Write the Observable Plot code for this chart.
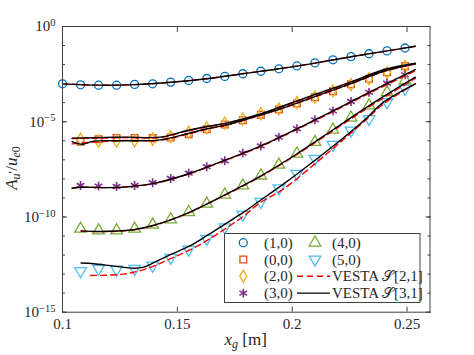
<!DOCTYPE html>
<html><head><meta charset="utf-8">
<script src="https://cdn.jsdelivr.net/npm/d3@7"></script>
<script src="https://cdn.jsdelivr.net/npm/@observablehq/plot@0.6"></script>
<style>body{margin:0;background:#fff}#chart{width:474px;height:355px}
#chart svg, #chart svg text {font-family: "Liberation Serif" !important;}</style>
</head><body><div id="chart"></div>
<script>
// ---------- data (amplitudes given as log10 values) ----------
const modes = ["(1,0)", "(0,0)", "(2,0)", "(3,0)", "(4,0)", "(5,0)"];
const colors = ["#0072BD", "#D95319", "#EDB120", "#7E2F8E", "#77AC30", "#4DBEEE"];
const markerX = [0.1, 0.10785, 0.1157, 0.12355, 0.1314, 0.13925, 0.1471, 0.15495, 0.1628, 0.17065,
  0.1785, 0.18635, 0.1942, 0.20205, 0.2099, 0.21775, 0.2256, 0.23345, 0.2413, 0.24915];
const markerX2 = markerX.slice(1);
const m10 = [-3.01, -3.06, -3.08, -3.08, -3.04, -3.01, -2.92, -2.83, -2.73, -2.62, -2.48, -2.35, -2.22, -2.07, -1.91, -1.75, -1.58, -1.43, -1.28, -1.13];
const m00 = [-6.05, -5.92, -5.85, -5.85, -5.86, -5.83, -5.65, -5.40, -5.15, -4.92, -4.64, -4.36, -4.04, -3.72, -3.40, -3.03, -2.74, -2.40, -2.08];
const m20 = [-5.92, -6.02, -6.02, -6.00, -5.92, -5.78, -5.55, -5.32, -5.07, -4.86, -4.58, -4.33, -4.00, -3.70, -3.38, -3.05, -2.74, -2.42, -2.10];
const m30 = [-8.35, -8.38, -8.40, -8.35, -8.20, -7.98, -7.70, -7.36, -7.05, -6.65, -6.27, -5.81, -5.37, -4.90, -4.43, -3.94, -3.46, -2.98, -2.54];
const m40 = [-10.62, -10.71, -10.71, -10.62, -10.41, -10.13, -9.75, -9.31, -8.83, -8.35, -7.83, -7.26, -6.68, -6.07, -5.42, -4.79, -4.15, -3.45, -2.83];
const m50 = [-12.84, -12.72, -12.76, -12.72, -12.55, -12.14, -11.71, -11.14, -10.54, -9.87, -9.20, -8.49, -7.73, -6.94, -6.21, -5.46, -4.85, -3.97, -3.27];

// VESTA S[3,1] (black) and S[2,1] (red dashed) curves
const l10x = [0.1, 0.1157, 0.1314, 0.1471, 0.1628, 0.1785, 0.1942, 0.2099, 0.2256, 0.2413, 0.2536];
const l10y = [-3.01, -3.08, -3.05, -2.93, -2.74, -2.48, -2.22, -1.92, -1.59, -1.28, -1.04];
const l00x = [0.1042, 0.1086, 0.1136, 0.1282, 0.1426, 0.1543, 0.163, 0.1717, 0.1854, 0.1963, 0.2108, 0.2253, 0.2398, 0.2536];
const k00y = [-6.04, -6.18, -6.02, -6.00, -5.95, -5.63, -5.37, -5.16, -4.67, -4.27, -3.64, -3.01, -2.35, -1.96];
const r00y = [-6.16, -6.12, -6.07, -5.98, -5.97, -5.66, -5.39, -5.17, -4.69, -4.28, -3.66, -3.03, -2.37, -1.97];
const l20x = [0.1042, 0.1136, 0.1282, 0.1426, 0.1543, 0.163, 0.1717, 0.1854, 0.1963, 0.2108, 0.2253, 0.2398, 0.2536];
const k20y = [-5.86, -5.84, -5.81, -5.81, -5.46, -5.25, -5.06, -4.62, -4.16, -3.53, -2.92, -2.27, -1.93];
const r20y = [-5.88, -5.86, -5.83, -5.83, -5.48, -5.27, -5.08, -4.64, -4.18, -3.56, -2.95, -2.30, -1.95];
const l30x = [0.1042, 0.1079, 0.1236, 0.1393, 0.1550, 0.1707, 0.1864, 0.2021, 0.2178, 0.2335, 0.2536];
const k30y = [-8.49, -8.44, -8.45, -8.25, -7.73, -7.02, -6.27, -5.37, -4.43, -3.46, -2.27];
const r30y = [-8.49, -8.44, -8.45, -8.25, -7.74, -7.04, -6.30, -5.40, -4.47, -3.51, -2.33];
const l40x = [0.1081, 0.1157, 0.1236, 0.1314, 0.1393, 0.1471, 0.155, 0.1628, 0.1707, 0.1785, 0.1864, 0.2021, 0.2178, 0.2335, 0.2536];
const k40y = [-10.73, -10.76, -10.74, -10.66, -10.45, -10.15, -9.77, -9.32, -8.84, -8.35, -7.84, -6.68, -5.42, -4.15, -2.66];
const r40y = [-10.75, -10.77, -10.75, -10.67, -10.47, -10.15, -9.78, -9.33, -8.86, -8.38, -7.87, -6.72, -5.47, -4.22, -2.72];
const k50x = [0.1081, 0.1136, 0.1223, 0.131, 0.1354, 0.1397, 0.147, 0.155, 0.163, 0.1709, 0.1789, 0.1854, 0.1963, 0.2108, 0.2253, 0.2326, 0.2398, 0.2536];
const k50y = [-12.42, -12.46, -12.58, -12.69, -12.63, -12.40, -11.98, -11.55, -10.97, -10.36, -9.75, -9.19, -8.26, -6.94, -5.55, -4.79, -3.97, -3.01];
const r50x = [0.1122, 0.1238, 0.131, 0.1397, 0.147, 0.155, 0.163, 0.1709, 0.1789, 0.1854, 0.1963, 0.2108, 0.221, 0.2326, 0.2398, 0.2536];
const r50y = [-13.07, -13.03, -12.90, -12.58, -12.19, -11.76, -11.23, -10.62, -9.95, -9.31, -8.52, -7.12, -6.07, -4.85, -4.06, -3.01];

const xTicks = [0.1, 0.15, 0.2, 0.25];
const xTickLabels = ["0.1", "0.15", "0.2", "0.25"];
const yMajor = [1, 1e-5, 1e-10, 1e-15];
const yMajorExp = ["0", "\u22125", "\u221210", "\u221215"];
const yMinor = d3.range(0, 16).map(k => Math.pow(10, -k));
const legendLabels = ["(1,0)", "(0,0)", "(2,0)", "(3,0)", "(4,0)", "(5,0)", "VESTA \u{1D4AE}[2,1]", "VESTA \u{1D4AE}[3,1]"];

// ---------- helpers ----------
const FONT = "Liberation Serif";
const pts = (xs, es) => xs.map((x, i) => ({x, y: Math.pow(10, es[i])}));
const sqrt3 = Math.sqrt(3);
const triangleDown = {
  draw(ctx, size) {
    const y = Math.sqrt(size / (sqrt3 * 3));
    ctx.moveTo(0, y * 2);
    ctx.lineTo(-sqrt3 * y, -y);
    ctx.lineTo(sqrt3 * y, -y);
    ctx.closePath();
  }
};
const symbols = ["circle", "square", "diamond", "asterisk", "triangle", triangleDown];
const symbolsD3 = [d3.symbolCircle, d3.symbolSquare, d3.symbolDiamond, d3.symbolAsterisk, d3.symbolTriangle, triangleDown];
const radii = [4, 3.8, 3.7, 4.2, 4.3, 4.3];
const markerData = [pts(markerX, m10), pts(markerX2, m00), pts(markerX2, m20), pts(markerX2, m30), pts(markerX2, m40), pts(markerX2, m50)];
const redLines = [pts(l10x, l10y), pts(l00x, r00y), pts(l20x, r20y), pts(l30x, r30y), pts(l40x, r40y), pts(r50x, r50y)];
const blackLines = [pts(l10x, l10y), pts(l00x, k00y), pts(l20x, k20y), pts(l30x, k30y), pts(l40x, k40y), pts(k50x, k50y)];
const axisColor = "#404040";
const textColor = "#262626";

const marks = [];
markerData.forEach((d, i) => marks.push(Plot.dot(d, {x: "x", y: "y", symbol: symbols[i], r: radii[i], stroke: colors[i], fill: "none", strokeWidth: i === 3 ? 1.6 : 1.3})));
redLines.forEach(d => marks.push(Plot.line(d, {x: "x", y: "y", stroke: "#ff0000", strokeWidth: 1.4, strokeDasharray: "6,4", curve: "catmull-rom"})));
blackLines.forEach(d => marks.push(Plot.line(d, {x: "x", y: "y", stroke: "#000", strokeWidth: 1.4, curve: "catmull-rom"})));
marks.push(
  Plot.frame({stroke: axisColor, strokeWidth: 1}),
  Plot.axisY(yMinor, {anchor: "left", tickSize: -3, tickFormat: () => "", stroke: axisColor}),
  Plot.axisY(yMinor, {anchor: "right", tickSize: -3, tickFormat: () => "", stroke: axisColor}),
  Plot.axisY(yMajor, {anchor: "left", tickSize: -5, tickFormat: () => "", stroke: axisColor}),
  Plot.axisY(yMajor, {anchor: "right", tickSize: -5, tickFormat: () => "", stroke: axisColor}),
  Plot.axisY(yMajor, {anchor: "left", tickSize: 0, tickPadding: 7, tickFormat: d => "10^" + yMajorExp[yMajor.indexOf(d)], fill: textColor, fontSize: 15}),
  Plot.axisX(xTicks, {anchor: "bottom", tickSize: -5, tickFormat: () => "", stroke: axisColor}),
  Plot.axisX(xTicks, {anchor: "top", tickSize: -5, tickFormat: () => "", stroke: axisColor}),
  Plot.axisX(xTicks, {anchor: "bottom", tickSize: 0, tickPadding: 6, tickFormat: d => xTickLabels[xTicks.indexOf(d)], fill: textColor, fontSize: 15})
);

const chart = Plot.plot({
  width: 474, height: 355,
  marginLeft: 62, marginRight: 44.5, marginTop: 26, marginBottom: 43.3,
  x: {domain: [0.1, 0.26], label: null},
  y: {type: "log", domain: [1e-15, 1], label: null},
  style: {fontFamily: FONT, fontSize: "15px", background: "white", color: textColor},
  marks
});
document.getElementById("chart").appendChild(chart);

const svg = d3.select(chart);
svg.attr("font-family", FONT);
// superscript exponents on y tick labels
svg.selectAll("text").each(function () {
  const t = this.textContent;
  if (t.startsWith("10^")) {
    const ex = t.slice(3);
    const sel = d3.select(this);
    sel.text("10");
    sel.append("tspan").attr("dy", "-0.5em").attr("font-size", "10.5px").text(ex);
  }
});

// axis labels
const yl = svg.append("text").attr("transform", "translate(17,168) rotate(-90)")
  .attr("text-anchor", "middle").attr("font-size", 17).attr("fill", textColor).attr("font-family", FONT);
yl.append("tspan").attr("font-style", "italic").text("A");
yl.append("tspan").attr("font-style", "italic").attr("font-size", 12).attr("dy", "3").text("u");
yl.append("tspan").attr("font-size", 12).attr("dy", "-3").text("\u2032");
yl.append("tspan").text("/");
yl.append("tspan").attr("font-style", "italic").text("u");
yl.append("tspan").attr("font-style", "italic").attr("font-size", 12).attr("dy", "3").text("e");
yl.append("tspan").attr("font-size", 12).text("0");

const xl = svg.append("text").attr("x", 245.7).attr("y", 345).attr("text-anchor", "middle")
  .attr("font-size", 17).attr("fill", textColor).attr("font-family", FONT);
xl.append("tspan").attr("font-style", "italic").text("x");
xl.append("tspan").attr("font-style", "italic").attr("font-size", 12).attr("dy", "3").text("g");
xl.append("tspan").attr("dy", "-3").text(" [m]");

// legend
const lg = svg.append("g").attr("font-family", FONT);
lg.append("rect").attr("x", 224.5).attr("y", 233.5).attr("width", 195.5).attr("height", 69)
  .attr("fill", "white").attr("stroke", axisColor).attr("stroke-width", 1);
const rowY = [242.7, 259.5, 276.3, 293.1];
const legendItems = [
  {col: 0, row: 0, kind: "sym", i: 0}, {col: 0, row: 1, kind: "sym", i: 1},
  {col: 0, row: 2, kind: "sym", i: 2}, {col: 0, row: 3, kind: "sym", i: 3},
  {col: 1, row: 0, kind: "sym", i: 4}, {col: 1, row: 1, kind: "sym", i: 5},
  {col: 1, row: 2, kind: "red"}, {col: 1, row: 3, kind: "black"}
];
legendItems.forEach((it, k) => {
  const y = rowY[it.row];
  const mx = it.col === 0 ? 243.3 : 315;
  const tx = it.col === 0 ? 264 : 332;
  if (it.kind === "sym") {
    const r = radii[it.i];
    lg.append("path").attr("transform", `translate(${mx},${y})`)
      .attr("d", d3.symbol(symbolsD3[it.i], Math.PI * r * r)())
      .attr("fill", "none").attr("stroke", colors[it.i]).attr("stroke-width", it.i === 3 ? 1.6 : 1.3);
  } else {
    lg.append("line").attr("x1", 297).attr("x2", 330).attr("y1", y).attr("y2", y)
      .attr("stroke", it.kind === "red" ? "#ff0000" : "#000").attr("stroke-width", 1.4)
      .attr("stroke-dasharray", it.kind === "red" ? "6,4" : null);
  }
  lg.append("text").attr("x", tx).attr("y", y + 5).attr("text-anchor", "start")
    .attr("font-size", 15).attr("fill", textColor).text(legendLabels[k]);
});
</script></body></html>
